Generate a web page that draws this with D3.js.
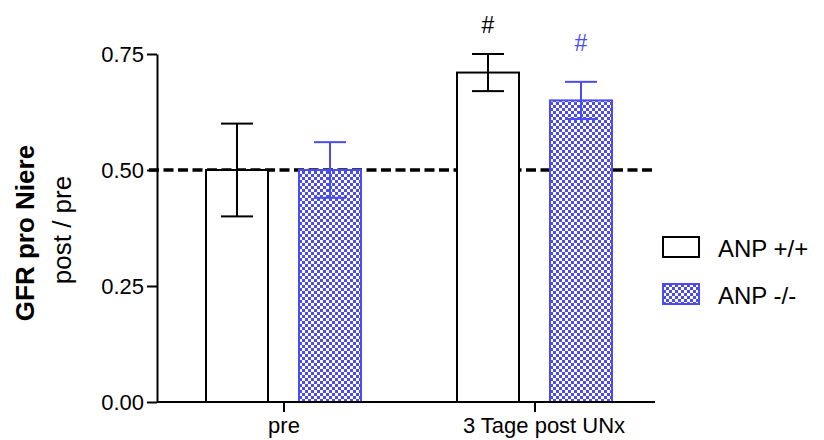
<!DOCTYPE html>
<html>
<head>
<meta charset="utf-8">
<script src="https://cdn.jsdelivr.net/npm/d3@7"></script>
<style>
  html, body { margin: 0; padding: 0; background: #fff; }
  svg { display: block; font-family: Arial, "Liberation Sans", sans-serif; }
</style>
</head>
<body>
<svg id="chart" width="824" height="440"></svg>
<script>
// Groups on the x axis and the two genotypes
const groups = ["pre", "3 Tage post UNx"];
const series = ["ANP +/+", "ANP -/-"];
// Mean GFR ratio (post / pre) per group, one array per genotype
const wildtype = [0.50, 0.71];
const knockout = [0.50, 0.65];
// Error (± half-range) per group
const wildtypeErr = [0.10, 0.04];
const knockoutErr = [0.06, 0.04];
// Significance markers per group
const marks = ["", "#"];
const yTicks = [0.00, 0.25, 0.50, 0.75];
const refLine = 0.50;

const svg = d3.select("#chart");
const blue = "#4b4bf2";

// Checkerboard fill used for the knockout bars
const defs = svg.append("defs");
const pat = defs.append("pattern")
  .attr("id", "checker").attr("patternUnits", "userSpaceOnUse")
  .attr("width", 6).attr("height", 6);
pat.append("rect").attr("width", 6).attr("height", 6).attr("fill", "#fff");
pat.append("rect").attr("width", 3).attr("height", 3).attr("fill", blue);
pat.append("rect").attr("x", 3).attr("y", 3).attr("width", 3).attr("height", 3).attr("fill", blue);

const plotLeft = 157, plotRight = 655, plotTop = 54, plotBottom = 402;

const y = d3.scaleLinear().domain([0, 0.75]).range([plotBottom, plotTop]);
const x0 = d3.scaleBand().domain(groups).range([158.5, 660.5]).padding(0);
const x1 = d3.scaleBand().domain(series).range([47.5, 202.5]).paddingInner(1 / 3).paddingOuter(0);

// Reference line at 0.5 (starts at the tick marks, left of the axis)
svg.append("line")
  .attr("x1", plotLeft - 8).attr("x2", plotRight)
  .attr("y1", y(refLine)).attr("y2", y(refLine))
  .attr("stroke", "#000").attr("stroke-width", 3.5)
  .attr("stroke-dasharray", "10,4.5");

const data = groups.map((g, i) => [
  { g, s: series[0], v: wildtype[i], e: wildtypeErr[i], fill: "#fff", stroke: "#000", mark: marks[i], gap: 21 },
  { g, s: series[1], v: knockout[i], e: knockoutErr[i], fill: "url(#checker)", stroke: blue, mark: marks[i], gap: 31 }
]).flat();

const bars = svg.append("g").selectAll("g").data(data).join("g")
  .attr("transform", d => `translate(${x0(d.g) + x1(d.s)},0)`);

bars.append("rect")
  .attr("x", 0).attr("y", d => y(d.v))
  .attr("width", x1.bandwidth()).attr("height", d => y(0) - y(d.v))
  .attr("fill", d => d.fill).attr("stroke", d => d.stroke).attr("stroke-width", 2);

const capW = 32;
const cx = x1.bandwidth() / 2;
bars.append("line")
  .attr("x1", cx).attr("x2", cx)
  .attr("y1", d => y(d.v + d.e)).attr("y2", d => y(d.v - d.e))
  .attr("stroke", d => d.stroke).attr("stroke-width", 2);
bars.append("line")
  .attr("x1", cx - capW / 2).attr("x2", cx + capW / 2)
  .attr("y1", d => y(d.v + d.e)).attr("y2", d => y(d.v + d.e))
  .attr("stroke", d => d.stroke).attr("stroke-width", 2);
bars.append("line")
  .attr("x1", cx - capW / 2).attr("x2", cx + capW / 2)
  .attr("y1", d => y(d.v - d.e)).attr("y2", d => y(d.v - d.e))
  .attr("stroke", d => d.stroke).attr("stroke-width", 2);

bars.filter(d => d.mark).append("text")
  .attr("x", cx).attr("y", d => y(d.v + d.e) - d.gap)
  .attr("text-anchor", "middle").attr("font-size", 23)
  .attr("fill", d => d.stroke === "#000" ? "#000" : blue)
  .text(d => d.mark);

// Axes
const yAxis = svg.append("g").attr("transform", `translate(${plotLeft},0)`)
  .call(d3.axisLeft(y).tickValues(yTicks).tickFormat(d3.format(".2f")).tickSize(10).tickSizeOuter(0));
yAxis.select(".domain").attr("stroke-width", 2);
yAxis.selectAll(".tick line").attr("stroke-width", 2);
yAxis.selectAll("text").attr("font-size", 22).attr("fill", "#000").attr("x", -13);

const xAxis = svg.append("g").attr("transform", `translate(0,${plotBottom})`)
  .call(d3.axisBottom(x0).tickSize(10).tickSizeOuter(0));
xAxis.select(".domain").attr("stroke-width", 2).attr("d", `M${plotLeft},0H${plotRight}`);
xAxis.selectAll(".tick line").attr("stroke-width", 2);
xAxis.selectAll("text").attr("font-size", 22).attr("fill", "#000")
  .attr("y", 31).attr("dy", 0)
  .attr("dx", (d, i) => (i === 1 ? 9 : 0));

// Y axis title
svg.append("text")
  .attr("transform", "translate(34,233) rotate(-90)")
  .attr("text-anchor", "middle").attr("font-size", 26).attr("font-weight", "bold")
  .text("GFR pro Niere");
svg.append("text")
  .attr("transform", "translate(71,230) rotate(-90)")
  .attr("text-anchor", "middle").attr("font-size", 26)
  .text("post / pre");

// Legend
const legend = svg.append("g").attr("transform", "translate(663,237)");
const legendFill = ["#fff", "url(#checker)"];
const legendStroke = ["#000", blue];
series.forEach((s, i) => {
  const g = legend.append("g").attr("transform", `translate(0,${i * 47})`);
  g.append("rect").attr("width", 36).attr("height", 20)
    .attr("fill", legendFill[i]).attr("stroke", legendStroke[i]).attr("stroke-width", 2);
  g.append("text").attr("x", 55).attr("y", 20).attr("font-size", 24).text(s);
});
</script>
</body>
</html>
